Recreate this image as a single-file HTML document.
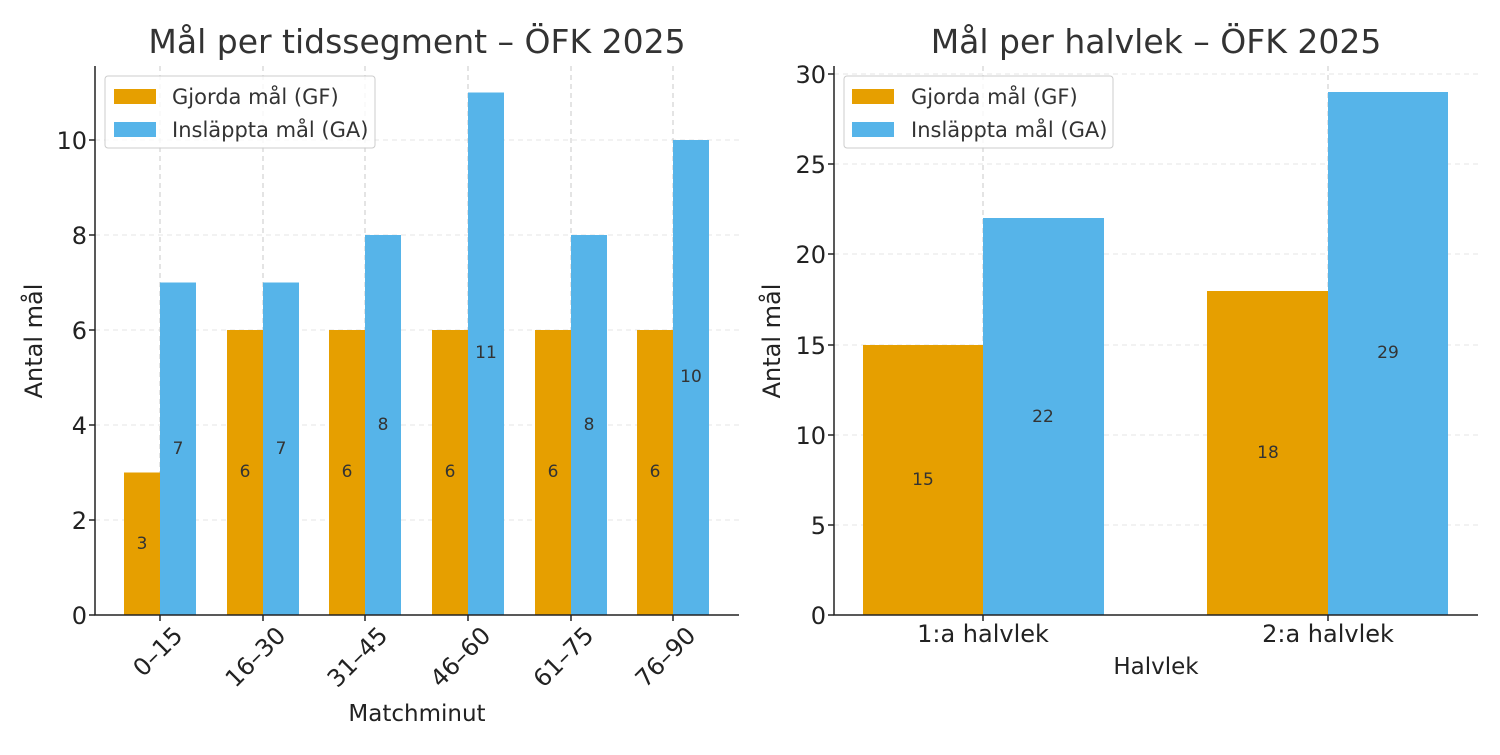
<!DOCTYPE html>
<html><head><meta charset="utf-8"><style>
body{margin:0;background:#fff}
svg{font-family:"DejaVu Sans","Liberation Sans",sans-serif;}
</style></head><body>
<svg width="1500" height="750" viewBox="0 0 1500 750" xmlns="http://www.w3.org/2000/svg">
<rect width="1500" height="750" fill="#fff"/>
<!-- LEFT -->
<g stroke="#e6e6e6" stroke-width="1" stroke-dasharray="5,4">
<line x1="95" x2="739" y1="520" y2="520"/><line x1="95" x2="739" y1="425" y2="425"/><line x1="95" x2="739" y1="330" y2="330"/><line x1="95" x2="739" y1="235" y2="235"/><line x1="95" x2="739" y1="140" y2="140"/>
</g>
<g stroke="#c8c8c8" stroke-width="1" stroke-dasharray="5,4">
<line x1="160" x2="160" y1="66" y2="615"/><line x1="263" x2="263" y1="66" y2="615"/><line x1="365" x2="365" y1="66" y2="615"/><line x1="468" x2="468" y1="66" y2="615"/><line x1="571" x2="571" y1="66" y2="615"/><line x1="673" x2="673" y1="66" y2="615"/>
</g>
<g fill="#E69F00">
<rect x="124" y="472.5" width="36" height="142.5"/><rect x="227" y="330" width="36" height="285"/><rect x="329" y="330" width="36" height="285"/><rect x="432" y="330" width="36" height="285"/><rect x="535" y="330" width="36" height="285"/><rect x="637" y="330" width="36" height="285"/>
</g>
<g fill="#56B4E9">
<rect x="160" y="282.5" width="36" height="332.5"/><rect x="263" y="282.5" width="36" height="332.5"/><rect x="365" y="235" width="36" height="380"/><rect x="468" y="92.5" width="36" height="522.5"/><rect x="571" y="235" width="36" height="380"/><rect x="673" y="140" width="36" height="475"/>
</g>
<g font-size="17" fill="#333" text-anchor="middle" dominant-baseline="middle">
<text x="142" y="544">3</text><text x="245" y="472">6</text><text x="347" y="472">6</text><text x="450" y="472">6</text><text x="553" y="472">6</text><text x="655" y="472">6</text>
<text x="178" y="449">7</text><text x="281" y="449">7</text><text x="383" y="425">8</text><text x="486" y="353">11</text><text x="589" y="425">8</text><text x="691" y="377">10</text>
</g>
<g stroke="#222" stroke-width="1.5"><line x1="95" y1="66" x2="95" y2="615.5"/><line x1="94.5" y1="615" x2="739" y2="615"/>
<line x1="89" x2="95" y1="615" y2="615"/><line x1="89" x2="95" y1="520" y2="520"/><line x1="89" x2="95" y1="425" y2="425"/><line x1="89" x2="95" y1="330" y2="330"/><line x1="89" x2="95" y1="235" y2="235"/><line x1="89" x2="95" y1="140" y2="140"/>
<line x1="160" x2="160" y1="615" y2="621"/><line x1="263" x2="263" y1="615" y2="621"/><line x1="365" x2="365" y1="615" y2="621"/><line x1="468" x2="468" y1="615" y2="621"/><line x1="571" x2="571" y1="615" y2="621"/><line x1="673" x2="673" y1="615" y2="621"/></g>
<g font-size="24" fill="#222" text-anchor="end">
<text x="87" y="624">0</text><text x="87" y="529">2</text><text x="87" y="434">4</text><text x="87" y="339">6</text><text x="87" y="244">8</text><text x="87" y="149">10</text>
<text transform="translate(184,637) rotate(-45)">0–15</text><text transform="translate(287,637) rotate(-45)">16–30</text><text transform="translate(389,637) rotate(-45)">31–45</text><text transform="translate(492,637) rotate(-45)">46–60</text><text transform="translate(595,637) rotate(-45)">61–75</text><text transform="translate(697,637) rotate(-45)">76–90</text>
</g>
<text x="417" y="721" font-size="23" fill="#222" text-anchor="middle">Matchminut</text>
<text transform="translate(42,341) rotate(-90)" font-size="24" fill="#222" text-anchor="middle">Antal mål</text>
<text x="417" y="53" font-size="33" fill="#333" text-anchor="middle">Mål per tidssegment – ÖFK 2025</text>
<rect x="105" y="76" width="270" height="72" rx="3" fill="#fff" fill-opacity="0.8" stroke="#ccc"/>
<rect x="114" y="89" width="42" height="15" fill="#E69F00"/><rect x="114" y="122" width="42" height="15" fill="#56B4E9"/>
<text x="172" y="104" font-size="21" fill="#333">Gjorda mål (GF)</text><text x="172" y="137" font-size="21" fill="#333">Insläppta mål (GA)</text>
<!-- RIGHT -->
<g stroke="#e6e6e6" stroke-width="1" stroke-dasharray="5,4">
<line x1="834" x2="1478" y1="525" y2="525"/><line x1="834" x2="1478" y1="435" y2="435"/><line x1="834" x2="1478" y1="345" y2="345"/><line x1="834" x2="1478" y1="254" y2="254"/><line x1="834" x2="1478" y1="164" y2="164"/><line x1="834" x2="1478" y1="74" y2="74"/>
</g>
<g stroke="#c8c8c8" stroke-width="1" stroke-dasharray="5,4">
<line x1="983" x2="983" y1="66" y2="615"/><line x1="1328" x2="1328" y1="66" y2="615"/>
</g>
<rect x="863" y="345" width="120" height="270" fill="#E69F00"/><rect x="1207" y="291" width="121" height="324" fill="#E69F00"/>
<rect x="983" y="218" width="121" height="397" fill="#56B4E9"/><rect x="1328" y="92" width="120" height="523" fill="#56B4E9"/>
<g font-size="17" fill="#333" text-anchor="middle" dominant-baseline="middle">
<text x="923" y="480">15</text><text x="1268" y="453">18</text><text x="1043" y="417">22</text><text x="1388" y="353">29</text>
</g>
<g stroke="#222" stroke-width="1.5"><line x1="834" y1="66" x2="834" y2="615.5"/><line x1="833.5" y1="615" x2="1478" y2="615"/>
<line x1="828" x2="834" y1="615" y2="615"/><line x1="828" x2="834" y1="525" y2="525"/><line x1="828" x2="834" y1="435" y2="435"/><line x1="828" x2="834" y1="345" y2="345"/><line x1="828" x2="834" y1="254" y2="254"/><line x1="828" x2="834" y1="164" y2="164"/><line x1="828" x2="834" y1="74" y2="74"/>
<line x1="983" x2="983" y1="615" y2="621"/><line x1="1328" x2="1328" y1="615" y2="621"/></g>
<g font-size="24" fill="#222" text-anchor="end">
<text x="826" y="624">0</text><text x="826" y="534">5</text><text x="826" y="444">10</text><text x="826" y="354">15</text><text x="826" y="263">20</text><text x="826" y="173">25</text><text x="826" y="83">30</text>
</g>
<g font-size="24" fill="#222" text-anchor="middle"><text x="983" y="642">1:a halvlek</text><text x="1328" y="642">2:a halvlek</text><text x="1156" y="674" font-size="23">Halvlek</text></g>
<text transform="translate(780,341) rotate(-90)" font-size="24" fill="#222" text-anchor="middle">Antal mål</text>
<text x="1156" y="53" font-size="33" fill="#333" text-anchor="middle">Mål per halvlek – ÖFK 2025</text>
<rect x="844" y="76" width="269" height="72" rx="3" fill="#fff" fill-opacity="0.8" stroke="#ccc"/>
<rect x="852" y="89" width="42" height="15" fill="#E69F00"/><rect x="852" y="122" width="42" height="15" fill="#56B4E9"/>
<text x="911" y="104" font-size="21" fill="#333">Gjorda mål (GF)</text><text x="911" y="137" font-size="21" fill="#333">Insläppta mål (GA)</text>
</svg>
</body></html>
